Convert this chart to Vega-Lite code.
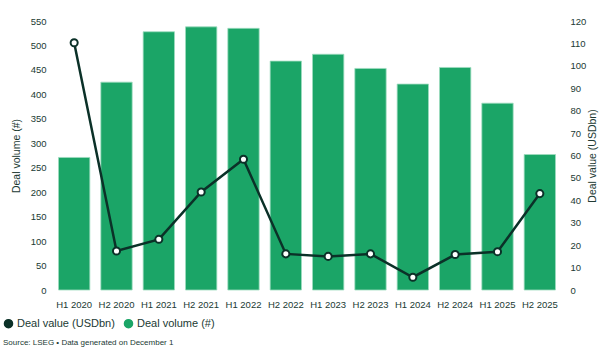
{
  "$schema": "https://vega.github.io/schema/vega-lite/v6.json",
  "width": 508,
  "height": 269,
  "autosize": {"type": "none"},
  "padding": {"left": 53, "top": 21, "right": 45, "bottom": 68},
  "background": "white",
  "config": {
    "view": {"stroke": null},
    "font": "Liberation Sans",
    "axis": {"labelFont": "Liberation Sans", "titleFont": "Liberation Sans", "labelColor": "#213a33", "titleColor": "#213a33", "labelFontSize": 9.5, "titleFontSize": 10.5, "titleFontWeight": "normal", "grid": false, "domain": false, "ticks": false, "labelOverlap": false}
  },
  "data": {"values": [
    {"period": "H1 2020", "volume": 271, "value": 110.3},
    {"period": "H2 2020", "volume": 425, "value": 17.4},
    {"period": "H1 2021", "volume": 528, "value": 22.6},
    {"period": "H2 2021", "volume": 538, "value": 43.7},
    {"period": "H1 2022", "volume": 535, "value": 58.3},
    {"period": "H2 2022", "volume": 468, "value": 16.1},
    {"period": "H1 2023", "volume": 482, "value": 15.0},
    {"period": "H2 2023", "volume": 453, "value": 16.1},
    {"period": "H1 2024", "volume": 421, "value": 5.7},
    {"period": "H2 2024", "volume": 455, "value": 15.8},
    {"period": "H1 2025", "volume": 382, "value": 17.1},
    {"period": "H2 2025", "volume": 277, "value": 43.0}
  ]},
  "encoding": {
    "x": {"field": "period", "type": "nominal", "sort": null, "title": null,
      "scale": {"paddingInner": 0.26, "paddingOuter": 0.13},
      "axis": {"labelAngle": 0, "labelPadding": 9, "labelFontSize": 9.5}}
  },
  "layer": [
    {
      "mark": {"type": "bar", "stroke": "#9edcbf", "strokeWidth": 0.8},
      "encoding": {
        "y": {"field": "volume", "type": "quantitative", "title": "Deal volume (#)",
          "scale": {"domain": [0, 550]},
          "axis": {"orient": "left", "values": [0,50,100,150,200,250,300,350,400,450,500,550], "labelPadding": 7, "titlePadding": 9, "labelOverlap": false}},
        "color": {"datum": "Deal volume (#)", "type": "nominal",
          "scale": {"domain": ["Deal value (USDbn)", "Deal volume (#)"], "range": ["#0b3128", "#1ba567"]},
          "legend": {"title": null, "orient": "none", "direction": "horizontal", "legendX": -50, "legendY": 297, "symbolType": "circle", "symbolSize": 65, "labelFontSize": 11, "labelColor": "#213a33", "labelFont": "Liberation Sans", "columnPadding": 6, "labelOffset": 3, "symbolOpacity": 1}}
      }
    },
    {
      "encoding": {
        "y": {"field": "value", "type": "quantitative", "title": "Deal value (USDbn)",
          "scale": {"domain": [0, 120]},
          "axis": {"orient": "right", "values": [0,10,20,30,40,50,60,70,80,90,100,110,120], "labelPadding": 9, "titlePadding": 12, "titleAngle": 270, "labelOverlap": false}}
      },
      "layer": [
        {
          "mark": {"type": "line", "strokeWidth": 2.5},
          "encoding": {
            "color": {"datum": "Deal value (USDbn)", "type": "nominal"}
          }
        },
        {
          "mark": {"type": "point", "filled": true, "fill": "white", "stroke": "#0b3128", "strokeWidth": 2, "size": 50, "opacity": 1}
        }
      ]
    }
  ],
  "resolve": {"scale": {"y": "independent"}},
  "title": {"text": "Source: LSEG • Data generated on December 1", "orient": "bottom", "anchor": "start", "frame": "bounds", "fontSize": 8, "fontWeight": "normal", "color": "#213a33", "font": "Liberation Sans", "offset": 8}
}
